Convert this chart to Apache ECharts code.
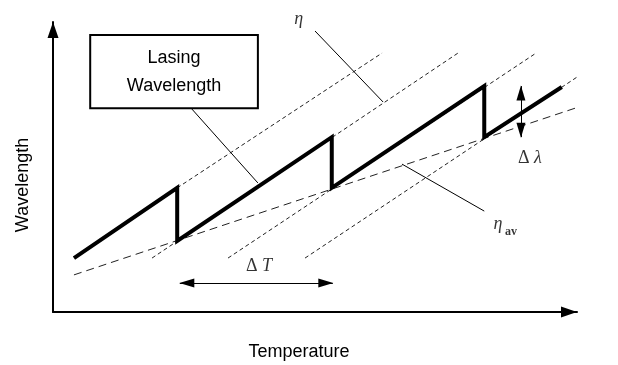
<!DOCTYPE html>
<html lang="en">
<head>
<meta charset="UTF-8">
<title>Lasing wavelength vs temperature</title>
<script src="https://cdn.jsdelivr.net/npm/echarts@6/dist/echarts.min.js"></script>
<style>html,body{margin:0;padding:0;background:#fff;}</style>
</head>
<body>
<div id="chart" style="width:618px;height:365px;"></div>
<script>
// lasing wavelength, thick sawtooth (temperature, wavelength)
var sawT = [4.0, 23.7, 23.7, 53.2, 53.2, 82.3, 82.3, 97.1];
var sawW = [18.6, 42.8, 24.5, 60.3, 42.8, 77.9, 60.3, 77.6];

// cavity mode lines (slope eta), start / end
var modeT0 = [23.7, 18.9, 33.4, 48.1];
var modeT1 = [62.8, 77.3, 92.2, 106.9];
var modeW0 = [42.8, 18.6, 18.6, 18.6];
var modeW1 = [89.3, 89.3, 89.3, 89.3];

// average tuning line (eta_av)
var avgT = [4.0, 101.5];
var avgW = [12.8, 71.4];

// leader lines: eta, lasing box, eta_av
var leadT = [[50.0, 63.0], [26.5, 39.1], [66.6, 82.3]];
var leadW = [[96.9, 72.4], [70.0, 44.5], [51.0, 34.8]];

// label box
var boxT = [7.1, 39.1];
var boxW = [70.3, 95.5];

// mode hop arrows
var hopT = 89.3, hopW = [77.9, 60.3];      // delta lambda
var perW = 10.0, perT = [24.2, 53.4];      // delta T

var serif = '"Liberation Serif","DejaVu Serif",serif';
var sans = '"Liberation Sans",Arial,sans-serif';

function pairs(t, w) {
    var out = [];
    for (var i = 0; i < t.length; i++) out.push([t[i], w[i]]);
    return out;
}

var series = [];

for (var i = 0; i < modeT0.length; i++) {
    series.push({
        type: 'line', clip: false, symbol: 'none', silent: true, z: 2,
        data: [[modeT0[i], modeW0[i]], [modeT1[i], modeW1[i]]],
        lineStyle: {color: '#222', width: 1, type: [4, 3]}
    });
}

series.push({
    type: 'line', clip: false, symbol: 'none', silent: true, z: 2,
    data: pairs(avgT, avgW),
    lineStyle: {color: '#222', width: 1, type: [8, 5]}
});

for (var j = 0; j < leadT.length; j++) {
    series.push({
        type: 'line', clip: false, symbol: 'none', silent: true, z: 3,
        data: pairs(leadT[j], leadW[j]),
        lineStyle: {color: '#000', width: 1}
    });
}

// sawtooth + box + arrows
series.push({
    type: 'line', clip: false, symbol: 'none', silent: true, z: 5,
    data: pairs(sawT, sawW),
    lineStyle: {color: '#000', width: 4, join: 'miter', cap: 'butt'},
    markArea: {
        silent: true,
        itemStyle: {color: '#fff', borderColor: '#000', borderWidth: 2},
        label: {
            show: true, position: 'inside', color: '#000',
            fontFamily: sans, fontSize: 18, lineHeight: 28, padding: [8, 0, 0, 0],
            formatter: 'Lasing\nWavelength'
        },
        data: [[{coord: [boxT[0], boxW[1]]}, {coord: [boxT[1], boxW[0]]}]]
    },
    markLine: {
        silent: true,
        symbol: ['triangle', 'triangle'],
        symbolSize: [9, 15],
        symbolOffset: [[0, 7], [0, 7]],
        label: {show: false},
        lineStyle: {color: '#000', width: 1, type: 'solid'},
        data: [
            [{coord: [hopT, hopW[0]]}, {coord: [hopT, hopW[1]]}],
            [{coord: [perT[0], perW]}, {coord: [perT[1], perW]}]
        ]
    }
});

// text labels
series.push({
    type: 'scatter', clip: false, symbolSize: 0, silent: true, z: 6,
    label: {show: true, position: 'inside', color: '#000', fontFamily: serif, fontSize: 18},
    data: [
        {value: [46.9, 101.0], label: {formatter: '{i|η}', rich: {i: {fontStyle: 'italic', fontFamily: serif, fontSize: 18}}}},
        {value: [91.0, 53.1], label: {formatter: 'Δ {i|λ}', rich: {i: {fontStyle: 'italic', fontFamily: serif, fontSize: 18}}}},
        {value: [39.3, 15.9], label: {formatter: 'Δ {i|T}', rich: {i: {fontStyle: 'italic', fontFamily: serif, fontSize: 18}}}},
        {value: [84.9, 30.3], label: {formatter: '{i|η}', rich: {i: {fontStyle: 'italic', fontFamily: serif, fontSize: 18}}}},
        {value: [87.4, 27.6], label: {formatter: 'av', fontSize: 12, fontWeight: 'bold'}}
    ]
});

var chart = echarts.init(document.getElementById('chart'));
chart.setOption({
    animation: false,
    backgroundColor: '#fff',
    grid: {left: 53, right: 41, top: 22, bottom: 53},
    xAxis: {
        type: 'value', min: 0, max: 100,
        axisLine: {show: true, symbol: ['none', 'triangle'], symbolSize: [11, 16], symbolOffset: [0, -8],
            lineStyle: {color: '#000', width: 2}},
        axisTick: {show: false}, axisLabel: {show: false}, splitLine: {show: false}
    },
    yAxis: {
        type: 'value', min: 0, max: 100,
        axisLine: {show: true, symbol: ['none', 'triangle'], symbolSize: [11, 16], symbolOffset: [0, -8],
            lineStyle: {color: '#000', width: 2}},
        axisTick: {show: false}, axisLabel: {show: false}, splitLine: {show: false}
    },
    graphic: [
        {type: 'text', x: 299, y: 352, style: {text: 'Temperature', font: '18px ' + sans,
            textAlign: 'center', textVerticalAlign: 'middle', fill: '#000'}},
        {type: 'text', x: 23, y: 185, rotation: Math.PI / 2, style: {text: 'Wavelength', font: '18px ' + sans,
            textAlign: 'center', textVerticalAlign: 'middle', fill: '#000'}}
    ],
    series: series
});
</script>
</body>
</html>
